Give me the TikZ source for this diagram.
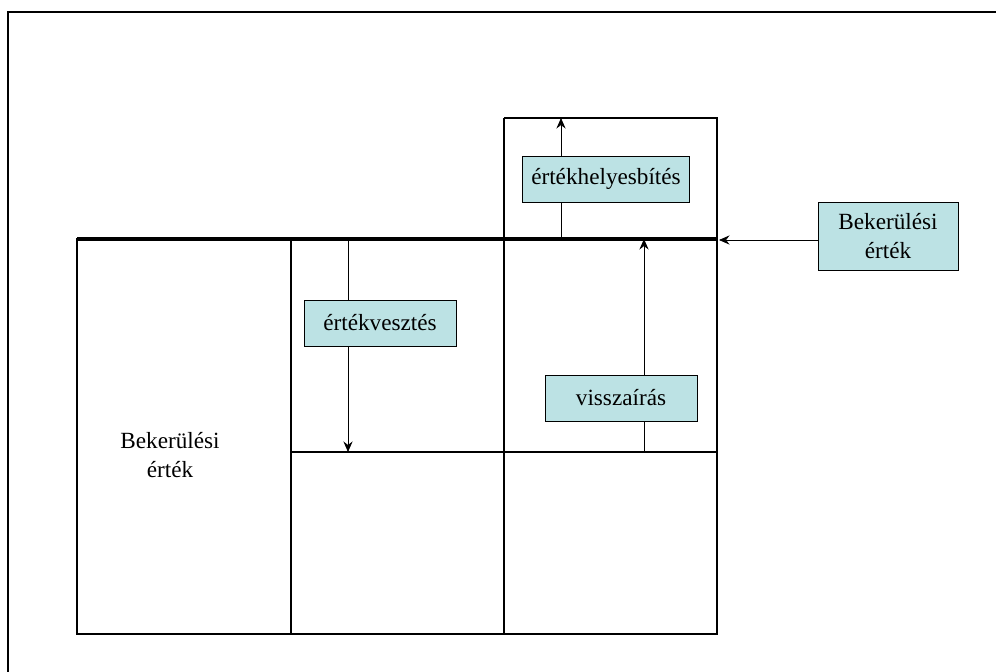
\documentclass[tikz,border=0pt]{standalone}
\usepackage{fontspec}
\setmainfont{Liberation Serif}
\usepackage{xcolor}
\usetikzlibrary{positioning,calc,arrows.meta}

\definecolor{boxcyan}{RGB}{188,226,228}
\tikzset{
  labelbox/.style={draw, fill=boxcyan, line width=0.6pt, inner sep=0pt,
    minimum height=1.15cm, font=\fontsize{16.5}{20.6}\selectfont},
  arr/.style={-{Stealth[length=7.5pt,width=6.5pt,inset=2.5pt]}, line width=0.6pt},
  cell/.style={line width=0.8pt}
}

\begin{document}
\begin{tikzpicture}[x=0.025cm,y=-0.025cm]
    \useasboundingbox (0,0) rectangle (996,672);
    % outer frame
    \draw[line width=1.8pt] (8,672) -- (8,12) -- (996,12);

    % grid corners
    \coordinate (a1) at (77,239);
    \coordinate (a2) at (291,239);
    \coordinate (a3) at (504,239);
    \coordinate (a4) at (717,239);
    \coordinate (m2) at (291,452);
    \coordinate (m4) at (717,452);
    \coordinate (b1) at (77,634);
    \coordinate (b4) at (717,634);
    \coordinate (u3) at (504,118);
    \coordinate (u4) at (717,118);

    % columns
    \draw[cell] (a1) rectangle (b4);
    \draw[cell] (a2) -- (a2 |- b1);
    \draw[cell] (u3) -- (u3 |- b1);
    \draw[cell] (m2) -- (m4);
    \draw[cell] (u3) -- (u4) -- (a4);

    % arrows
    \coordinate (lossTop) at (348,239);
    \coordinate (lossEnd) at (348,452);
    \draw[arr] (lossTop) -- (lossEnd);
    \coordinate (revalBot) at (561,239);
    \coordinate (revalEnd) at (561,118);
    \draw[arr] (revalBot) -- (revalEnd);
    \coordinate (backBot) at (644,452);
    \coordinate (backEnd) at (644,239);
    \draw[arr] (backBot) -- (backEnd);

    % thick base line
    \draw[line width=2.4pt] (a1) -- (a4);

    % labels
    \node[labelbox, minimum width=3.8cm] (loss) at (380,323) {értékvesztés};
    \node[labelbox, minimum width=4.18cm] (reval) at (606,179) {értékhelyesbítés};
    \node[labelbox, minimum width=3.8cm] (back) at (621,398) {visszaírás};
    \node[labelbox, minimum width=3.5cm, minimum height=1.7cm, align=center] (costR) at (888,236) {Bekerülési\\érték};
    \node[align=center, font=\fontsize{16.5}{20.6}\selectfont] (costL) at (170,455) {Bekerülési\\érték};

    \coordinate (entry) at (719,240);
    \draw[arr] (costR.west |- entry) -- (entry);
\end{tikzpicture}
\end{document}
